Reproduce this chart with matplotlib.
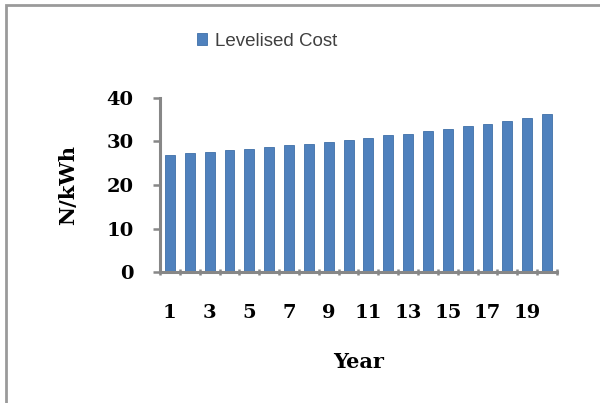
import matplotlib
matplotlib.use("Agg")
import matplotlib.pyplot as plt
from matplotlib.patches import Rectangle
import numpy as np

years = list(range(1, 21))
levelised_cost = [27.0, 27.3, 27.6, 28.0, 28.3, 28.7, 29.1, 29.5, 29.9, 30.3,
                  30.8, 31.4, 31.8, 32.4, 32.9, 33.5, 34.1, 34.8, 35.4, 36.3]
y_ticks = [0, 10, 20, 30, 40]
x_labels = [str(y) for y in years[::2]]

bar_color = "#4F81BD"
axis_color = "#878787"
serif = "DejaVu Serif"

fig = plt.figure(figsize=(6.0, 4.03), dpi=100)
fig.patch.set_facecolor("white")

# outer chart frame
fig.add_artist(Rectangle((6 / 600, -0.05), 1.2, 1 - 5 / 403 + 0.05,
                         transform=fig.transFigure, fill=False,
                         edgecolor="#9a9a9a", linewidth=2.0))

ax = fig.add_axes([160 / 600, 131 / 403, 397 / 600, 174 / 403])
x = np.arange(len(years))
bars = ax.bar(x, levelised_cost, width=0.5, color=bar_color,
              edgecolor="#3f6fa8", linewidth=0.6, label="Levelised Cost")

ax.set_xlim(-0.5, len(years) - 0.5)
ax.set_ylim(0, 40)
ax.set_yticks(y_ticks)
ax.set_yticklabels([str(t) for t in y_ticks], fontfamily=serif,
                   fontweight="bold", fontsize=14)
ax.set_xticks(x[::2])
ax.set_xticklabels(x_labels, fontfamily=serif,
                   fontweight="bold", fontsize=14)
ax.set_xticks(np.arange(-0.5, len(years), 1.0), minor=True)
ax.tick_params(axis="x", which="major", length=0, pad=23)
ax.tick_params(axis="x", which="minor", length=5, width=1.8,
               color=axis_color, direction="inout")
ax.tick_params(axis="y", which="major", length=5, width=1.8,
               color=axis_color, direction="out", pad=14)

for s in ["top", "right"]:
    ax.spines[s].set_visible(False)
for s in ["left", "bottom"]:
    ax.spines[s].set_color(axis_color)
    ax.spines[s].set_linewidth(2.2)

ax.set_ylabel("N/kWh", fontfamily=serif, fontweight="bold",
              fontsize=15, labelpad=20)
ax.set_xlabel("Year", fontfamily=serif, fontweight="bold",
              fontsize=15, labelpad=22)

fig.legend(handles=[bars], labels=["Levelised Cost"], loc="center",
           bbox_to_anchor=(267 / 600, 1 - 41 / 403), frameon=False,
           handlelength=0.55, handleheight=0.55, handletextpad=0.45,
           prop={"family": "Liberation Sans", "size": 13.5},
           labelcolor="#404040")

fig.savefig("out.png", dpi=100, facecolor="white")
